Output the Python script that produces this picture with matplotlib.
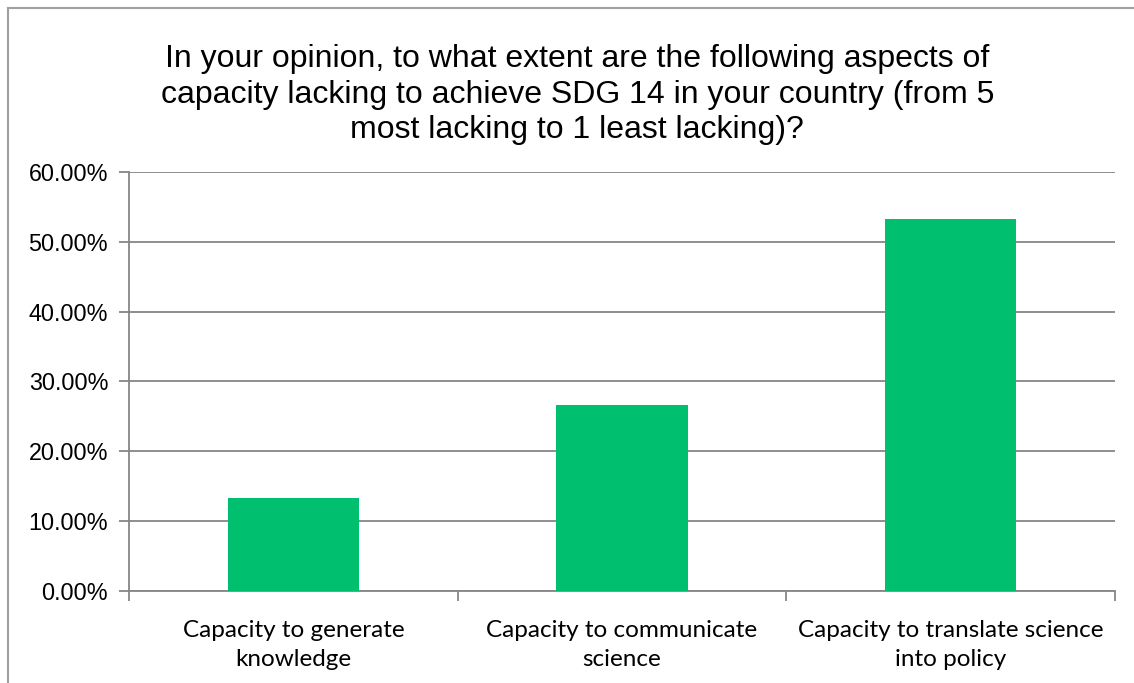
import matplotlib.pyplot as plt
from matplotlib.lines import Line2D
from matplotlib.ticker import PercentFormatter

categories = ["Capacity to generate\nknowledge",
              "Capacity to communicate\nscience",
              "Capacity to translate science\ninto policy"]
shares = [13.33, 26.67, 53.33]
yticks = [0, 10, 20, 30, 40, 50, 60]

title = ("In your opinion, to what extent are the following aspects of\n"
         "capacity lacking to achieve SDG 14 in your country (from 5\n"
         "most lacking to 1 least lacking)?")

grey = "#868686"
green = "#00C070"

fig = plt.figure(figsize=(11.34, 6.83), dpi=100)
ax = fig.add_axes([0.1138, 0.1347, 0.8694, 0.6135])

x = range(len(categories))
ax.bar(x, shares, width=0.4, color=green, zorder=3)

ax.set_ylim(0, 60)
ax.set_xlim(-0.5, len(categories) - 0.5)
ax.set_yticks(yticks)
ax.yaxis.set_major_formatter(PercentFormatter(decimals=2))
ax.grid(axis="y", color=grey, linewidth=1.3, zorder=0)

# category boundaries carry the x ticks, labels sit in between
ax.set_xticks([i - 0.5 for i in range(len(categories) + 1)])
ax.set_xticklabels([])
ax.set_xticks(list(x), minor=True)
ax.set_xticklabels(categories, minor=True, fontname="Lato", fontsize=17.5,
                   linespacing=1.45)
ax.tick_params(axis="x", which="major", length=7, width=1.3, color=grey,
               direction="out")
ax.tick_params(axis="x", which="minor", length=0, pad=21)
ax.tick_params(axis="y", length=7, width=1.3, color=grey, pad=8)
for lbl in ax.get_yticklabels():
    lbl.set_fontname("Liberation Sans")
    lbl.set_fontsize(16.8)

for side in ("top", "right"):
    ax.spines[side].set_visible(False)
for side in ("left", "bottom"):
    ax.spines[side].set_color(grey)
    ax.spines[side].set_linewidth(1.3)

fig.text(0.509, 0.935, title, ha="center", va="top", fontname="Liberation Sans",
         fontsize=23, linespacing=1.24)

# outer chart border (left and top edges)
fig.add_artist(Line2D([8 / 1134, 8 / 1134], [0, 1 - 8 / 683],
                      color="#a0a0a0", linewidth=1.5))
fig.add_artist(Line2D([8 / 1134, 1], [1 - 8 / 683, 1 - 8 / 683],
                      color="#a0a0a0", linewidth=1.5))

fig.savefig("out.png", dpi=100)
